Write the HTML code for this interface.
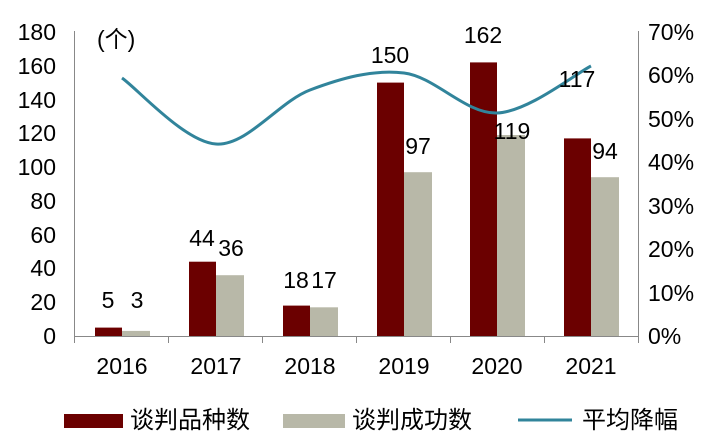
<!DOCTYPE html>
<html><head><meta charset="utf-8"><style>
html,body{margin:0;padding:0;background:#fff;}
svg{display:block;}
text{font-family:"Liberation Sans","Noto Sans CJK SC",sans-serif;font-size:23px;fill:#000;}
.lg{font-size:24px;}
</style></head><body>
<svg width="718" height="445" viewBox="0 0 718 445">
<line x1="74.5" y1="31" x2="74.5" y2="336" stroke="#888" stroke-width="1"/>
<line x1="638.5" y1="31" x2="638.5" y2="336" stroke="#888" stroke-width="1"/>
<line x1="74" y1="336.5" x2="638" y2="336.5" stroke="#888" stroke-width="1"/>
<g stroke="#888">
<line x1="74.5" y1="336" x2="74.5" y2="343"/><line x1="168.5" y1="336" x2="168.5" y2="343"/><line x1="262.5" y1="336" x2="262.5" y2="343"/><line x1="356.5" y1="336" x2="356.5" y2="343"/><line x1="450.5" y1="336" x2="450.5" y2="343"/><line x1="544.5" y1="336" x2="544.5" y2="343"/><line x1="638.5" y1="336" x2="638.5" y2="343"/>
</g>
<g text-anchor="end">
<text x="56" y="344">0</text><text x="56" y="310">20</text><text x="56" y="276">40</text><text x="56" y="243">60</text><text x="56" y="209">80</text><text x="56" y="175">100</text><text x="56" y="141">120</text><text x="56" y="108">140</text><text x="56" y="74">160</text><text x="56" y="40">180</text>
</g>
<text x="97" y="47">(个)</text>
<g text-anchor="start">
<text x="648" y="344">0%</text><text x="648" y="301">10%</text><text x="648" y="257">20%</text><text x="648" y="214">30%</text><text x="648" y="170">40%</text><text x="648" y="127">50%</text><text x="648" y="83">60%</text><text x="648" y="40">70%</text>
</g>
<g text-anchor="middle">
<text x="122" y="374">2016</text><text x="216" y="374">2017</text><text x="310" y="374">2018</text><text x="404" y="374">2019</text><text x="497" y="374">2020</text><text x="591" y="374">2021</text>
</g>
<g fill="#6b0000">
<rect x="95" y="327.6" width="27" height="8.4"/>
<rect x="189" y="261.7" width="27" height="74.3"/>
<rect x="283" y="305.6" width="27" height="30.4"/>
<rect x="377" y="82.6" width="27" height="253.4"/>
<rect x="470" y="62.4" width="27" height="273.6"/>
<rect x="564" y="138.4" width="27" height="197.6"/>
</g>
<g fill="#b8b8a8">
<rect x="122" y="330.9" width="28" height="5.1"/>
<rect x="216" y="275.2" width="28" height="60.8"/>
<rect x="310" y="307.3" width="28" height="28.7"/>
<rect x="404" y="172.2" width="28" height="163.8"/>
<rect x="497" y="135" width="28" height="201"/>
<rect x="591" y="177.2" width="28" height="158.8"/>
</g>
<path d="M122,78 C137.7,89 184.7,142 216,144 C247.3,146 278.7,101.8 310,90 C341.3,78.2 372.8,69.2 404,73 C435.2,76.8 465.8,114.2 497,113 C528.2,111.8 575.3,73.8 591,66" fill="none" stroke="#31849b" stroke-width="3"/>
<g text-anchor="middle">
<text x="108" y="308">5</text><text x="137" y="308">3</text>
<text x="202" y="246">44</text><text x="231" y="256">36</text>
<text x="296" y="288">18</text><text x="324" y="288">17</text>
<text x="390" y="63">150</text><text x="418" y="154">97</text>
<text x="483" y="43">162</text><text x="512" y="139">119</text>
<text x="577" y="87">117</text><text x="605" y="159">94</text>
</g>
<rect x="64" y="414" width="59" height="14" fill="#6b0000"/>
<text class="lg" x="130" y="428">谈判品种数</text>
<rect x="283" y="414" width="62" height="14" fill="#b8b8a8"/>
<text class="lg" x="352" y="428">谈判成功数</text>
<line x1="518" y1="420" x2="572" y2="420" stroke="#31849b" stroke-width="3"/>
<text class="lg" x="582" y="428">平均降幅</text>
</svg>
</body></html>
